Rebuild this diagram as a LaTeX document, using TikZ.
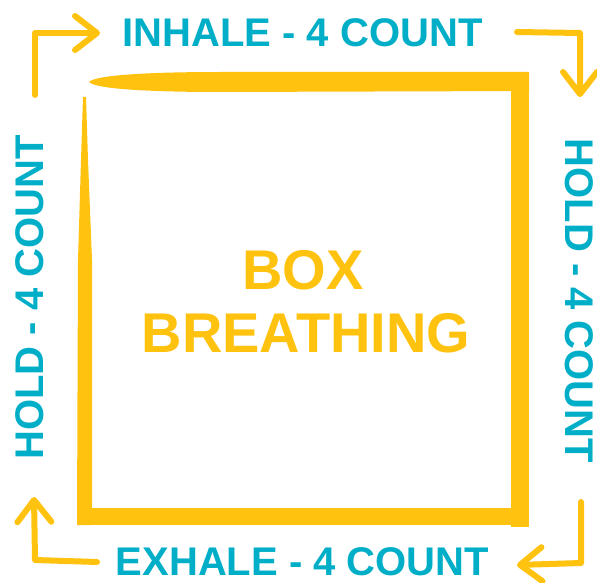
\documentclass[tikz,border=0pt]{standalone}
\usepackage{fontspec}
\setmainfont{Liberation Sans}
\usepackage{tikz}
\usetikzlibrary{arrows.meta}
\definecolor{boxyellow}{RGB}{255,194,14}
\definecolor{stepteal}{RGB}{0,174,200}

\begin{document}
\begin{tikzpicture}[x=1pt,y=-1pt,
	steplabel/.style={text=stepteal,font=\fontsize{40}{40}\selectfont\bfseries,inner sep=0pt,anchor=base},
	titleword/.style={text=boxyellow,font=\fontsize{56}{56}\selectfont\bfseries,inner sep=0pt,anchor=base},
	turnarrow/.style={draw=boxyellow,line width=6pt,line cap=round,line join=round,
		-{Straight Barb[length=22pt,width=34pt,round]}}]
				\useasboundingbox (0,0) rectangle (597,583);
				% the brushed box
				\fill[boxyellow] (89,82) .. controls (95,75) and (150,72) .. (220,72) -- (529,72)
					-- (529,91) -- (220,92) .. controls (150,92) and (95,89) .. (89,82) -- cycle;
				\fill[boxyellow] (511,72) rectangle (529,527);
				\fill[boxyellow] (77,508) rectangle (529,525);
				\fill[boxyellow] (83,97) -- (86,97) -- (88,160) -- (92,260) -- (92,525)
					-- (77,525) -- (78,260) -- (81,160) -- cycle;
				% title
				\node[titleword] (boxword) at (303,289) {BOX};
				\node[titleword] (breathword) at (306,352) {BREATHING};
				% the four steps
				\node[steplabel] (inhale) at (302.5,47) {INHALE - 4 COUNT};
				\node[steplabel,rotate=-90] (holdright) at (565,301) {HOLD - 4 COUNT};
				\node[steplabel] (exhale) at (302.5,575) {EXHALE - 4 COUNT};
				\node[steplabel,rotate=90] (holdleft) at (43,297.5) {HOLD - 4 COUNT};
				% turning arrows
				\coordinate (tla) at (35,95);  \coordinate (tlb) at (35,33);  \coordinate (tlc) at (100,33);
				\coordinate (tra) at (517,32); \coordinate (trb) at (580,33); \coordinate (trc) at (580,97);
				\coordinate (bra) at (581,502); \coordinate (brb) at (581,563); \coordinate (brc) at (517,565);
				\coordinate (bla) at (97,562); \coordinate (blb) at (35,560); \coordinate (blc) at (34,497);
				\draw[turnarrow] (tla) -- (tlb) -- (tlc);
				\draw[turnarrow] (tra) -- (trb) -- (trc);
				\draw[turnarrow] (bra) -- (brb) -- (brc);
				\draw[turnarrow] (bla) -- (blb) -- (blc);
	\end{tikzpicture}
\end{document}
